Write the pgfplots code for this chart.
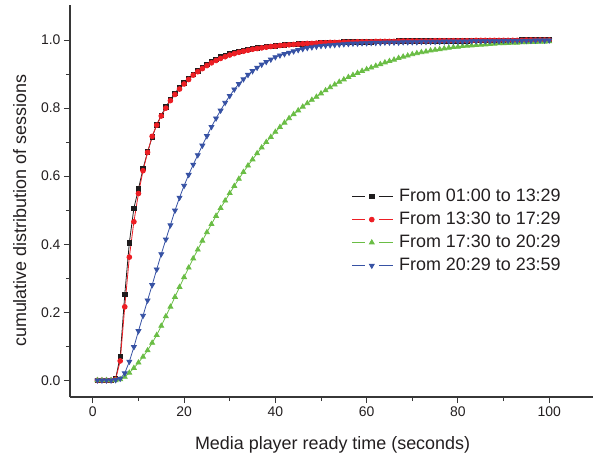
\documentclass[border=0pt]{standalone}
\usepackage{fontspec}
\setmainfont{Liberation Sans}
\usepackage{pgfplots}
\usepackage{pgfplotstable}
\pgfplotsset{compat=1.18}

\definecolor{cBlack}{RGB}{30,28,29}
\definecolor{cRed}{RGB}{237,30,36}
\definecolor{cGreen}{RGB}{106,189,69}
\definecolor{cBlue}{RGB}{55,82,164}
\definecolor{axisgray}{RGB}{55,55,55}
\definecolor{txt}{RGB}{35,31,32}

% CDF of media player ready time, one column per time-of-day window
\pgfplotstableread{
x B R G U
1 0 0 0 0
2 0 0 0 0
3 0 0 0 0
4 0 0 0 0
5 0.005 0.003 0 0.001
6 0.070 0.057 0.003 0.005
7 0.252 0.216 0.010 0.021
8 0.404 0.362 0.022 0.055
9 0.506 0.466 0.036 0.098
10 0.562 0.549 0.052 0.145
11 0.622 0.616 0.069 0.190
12 0.671 0.670 0.088 0.235
13 0.715 0.717 0.110 0.280
14 0.751 0.750 0.133 0.326
15 0.779 0.777 0.160 0.371
16 0.803 0.800 0.188 0.414
17 0.825 0.822 0.216 0.456
18 0.844 0.840 0.245 0.499
19 0.860 0.856 0.274 0.537
20 0.874 0.871 0.303 0.572
21 0.887 0.884 0.331 0.604
22 0.899 0.897 0.358 0.634
23 0.909 0.907 0.384 0.662
24 0.919 0.916 0.410 0.690
25 0.928 0.925 0.435 0.718
26 0.937 0.933 0.459 0.745
27 0.944 0.940 0.483 0.770
28 0.950 0.946 0.506 0.793
29 0.955 0.951 0.528 0.816
30 0.960 0.956 0.550 0.836
31 0.964 0.960 0.571 0.855
32 0.967 0.964 0.592 0.871
33 0.970 0.967 0.612 0.885
34 0.973 0.970 0.631 0.898
35 0.975 0.973 0.649 0.909
36 0.977 0.975 0.667 0.919
37 0.979 0.977 0.684 0.928
38 0.981 0.979 0.700 0.936
39 0.982 0.981 0.715 0.943
40 0.983 0.982 0.730 0.950
41 0.985 0.984 0.744 0.955
42 0.986 0.985 0.757 0.959
43 0.987 0.986 0.770 0.963
44 0.988 0.987 0.782 0.967
45 0.989 0.988 0.793 0.971
46 0.989 0.989 0.804 0.974
47 0.990 0.990 0.814 0.977
48 0.991 0.990 0.824 0.979
49 0.991 0.991 0.833 0.981
50 0.992 0.992 0.843 0.983
51 0.992 0.992 0.852 0.984
52 0.993 0.993 0.861 0.985
53 0.993 0.993 0.869 0.986
54 0.993 0.993 0.877 0.987
55 0.994 0.994 0.884 0.988
56 0.994 0.994 0.891 0.989
57 0.994 0.994 0.897 0.990
58 0.995 0.995 0.903 0.990
59 0.995 0.995 0.909 0.991
60 0.995 0.995 0.914 0.991
61 0.995 0.995 0.919 0.992
62 0.996 0.996 0.924 0.992
63 0.996 0.996 0.929 0.992
64 0.996 0.996 0.934 0.993
65 0.996 0.996 0.938 0.993
66 0.996 0.996 0.942 0.993
67 0.997 0.997 0.947 0.993
68 0.997 0.997 0.951 0.994
69 0.997 0.997 0.954 0.994
70 0.997 0.997 0.958 0.994
71 0.997 0.997 0.961 0.994
72 0.997 0.997 0.964 0.995
73 0.997 0.997 0.966 0.995
74 0.998 0.997 0.969 0.995
75 0.998 0.998 0.971 0.995
76 0.998 0.998 0.973 0.995
77 0.998 0.998 0.975 0.996
78 0.998 0.998 0.977 0.996
79 0.998 0.998 0.979 0.996
80 0.998 0.998 0.980 0.996
81 0.998 0.998 0.982 0.996
82 0.998 0.998 0.983 0.996
83 0.999 0.998 0.984 0.997
84 0.999 0.999 0.985 0.997
85 0.999 0.999 0.986 0.997
86 0.999 0.999 0.987 0.997
87 0.999 0.999 0.988 0.997
88 0.999 0.999 0.989 0.997
89 0.999 0.999 0.990 0.997
90 0.999 0.999 0.990 0.998
91 0.999 0.999 0.991 0.998
92 0.999 0.999 0.992 0.998
93 0.999 0.999 0.992 0.998
94 1.000 0.999 0.993 0.998
95 1.000 1.000 0.993 0.998
96 1.000 1.000 0.994 0.998
97 1.000 1.000 0.994 0.999
98 1.000 1.000 0.995 0.999
99 1.000 1.000 0.995 0.999
100 1.000 1.000 0.996 0.999
}\cdf

\begin{document}
\begin{tikzpicture}
\begin{axis}[
  scale only axis, width=523bp, height=392bp,
  xmin=-5, xmax=109.6, ymin=-0.049, ymax=1.103,
  axis lines=left,
  axis line style={-, line width=1.1bp, color=axisgray},
  tick align=outside, major tick length=6bp, minor tick length=4bp,
  every tick/.style={line width=1bp, color=axisgray},
  xtick={0,20,40,60,80,100},
  ytick={0,0.2,0.4,0.6,0.8,1.0},
  minor x tick num=1, minor y tick num=1,
  /pgf/number format/assume math mode=true,
  yticklabel style={/pgf/number format/.cd, fixed, fixed zerofill, precision=1},
  ticklabel style={font=\fontsize{14}{16}\selectfont, text=txt},
  xlabel={Media player ready time (seconds)},
  ylabel={cumulative distribution of sessions},
  every axis x label/.style={at={(axis description cs:0.502,-0.1327)}, anchor=base,
    font=\fontsize{18}{20}\selectfont, text=txt},
  every axis y label/.style={at={(axis description cs:-0.0841,0.475)}, rotate=90, anchor=base,
    font=\fontsize{18}{20}\selectfont, text=txt},
  % legend sample: short line, gap, marker, gap, short line
  legend image code/.code={
    \draw[#1, mark=none] (0bp,0bp) -- (12.5bp,0bp);
    \draw[#1, mark=none] (26.5bp,0bp) -- (40.5bp,0bp);
    \draw[#1] plot coordinates {(19.5bp,0bp)};
    \path (45.5bp,0bp);},
  legend cell align=left,
  legend style={at={(rel axis cs:0.5386,0.536)}, anchor=north west,
    draw=none, fill=none, inner sep=0pt, row sep=4bp,
    font=\fontsize{18}{20}\selectfont, text=txt,
    nodes={inner sep=1bp, text height=13bp, text depth=4bp}},
]
\addplot[color=cBlack, line width=0.8bp, mark=square*, mark size=2.2bp]
  table[x=x, y=B] {\cdf};
\addlegendentry{From 01:00 to 13:29}
\addplot[color=cRed, line width=0.8bp, mark=*, mark size=2.4bp]
  table[x=x, y=R] {\cdf};
\addlegendentry{From 13:30 to 17:29}
\addplot[color=cGreen, line width=0.8bp, mark=triangle*, mark size=2.8bp]
  table[x=x, y=G] {\cdf};
\addlegendentry{From 17:30 to 20:29}
\addplot[color=cBlue, line width=0.8bp, mark=triangle*, mark size=2.8bp, mark options={rotate=180}]
  table[x=x, y=U] {\cdf};
\addlegendentry{From 20:29 to 23:59}
\coordinate (SW) at (rel axis cs:0,0);
\coordinate (NE) at (rel axis cs:1,1);
\end{axis}
\pgfresetboundingbox
\path[use as bounding box] ([xshift=-70bp,yshift=-60bp]SW) rectangle ([xshift=1bp,yshift=5bp]NE);
\end{tikzpicture}
\end{document}
